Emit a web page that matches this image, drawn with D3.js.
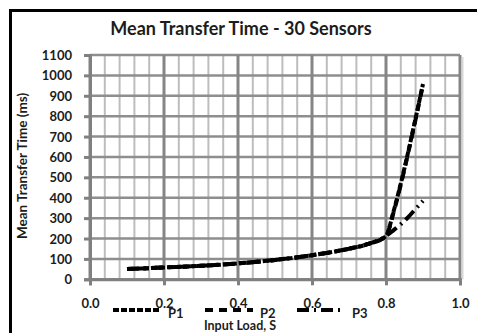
<!DOCTYPE html>
<html>
<head>
<meta charset="utf-8">
<script src="https://cdn.jsdelivr.net/npm/d3@7"></script>
<style>
  html, body { margin: 0; padding: 0; background: #fff; }
  svg { display: block; }
  text { font-family: Lato, "Open Sans", sans-serif; font-weight: bold; fill: #1c1c1c; }
</style>
</head>
<body>
<script>
// Input load values (x) shared by all three series
const loads = [0.1, 0.2, 0.3, 0.4, 0.5, 0.6, 0.7, 0.75, 0.8, 0.82, 0.84, 0.86, 0.88, 0.9];
// Mean transfer time (ms) per series
const p1 = [50, 58, 66, 78, 95, 118, 150, 172, 212, 330, 470, 625, 790, 958];
const p2 = [50, 58, 66, 78, 95, 118, 150, 172, 212, 325, 465, 620, 785, 955];
const p3 = [50, 58, 66, 78, 95, 118, 150, 172, 212, 240, 270, 305, 345, 385];
const seriesNames = ["P1", "P2", "P3"];
const xTicks = [0.0, 0.2, 0.4, 0.6, 0.8, 1.0];
const yTicks = [0, 100, 200, 300, 400, 500, 600, 700, 800, 900, 1000, 1100];

const W = 477, H = 333;
const svg = d3.select("body").append("svg").attr("width", W).attr("height", H);

const x = d3.scaleLinear().domain([0, 1]).range([90, 460]);
const y = d3.scaleLinear().domain([0, 1100]).range([279.3, 55]);

// outer chart frame
svg.append("rect").attr("x", 10.5).attr("y", 10.5).attr("width", 500).attr("height", 400)
  .attr("fill", "none").attr("stroke", "#000").attr("stroke-width", 3);

// title
svg.append("text").attr("x", 241).attr("y", 35).attr("text-anchor", "middle")
  .style("font-size", "18px").text("Mean Transfer Time - 30 Sensors");

const g = svg.append("g");

// minor vertical gridlines
const minorX = d3.range(0, 1.0001, 0.04).filter(v => Math.abs(v * 5 - Math.round(v * 5)) > 1e-6);
g.selectAll("line.vminor").data(minorX).join("line")
  .attr("x1", d => x(d)).attr("x2", d => x(d)).attr("y1", y(1100)).attr("y2", y(0))
  .attr("stroke", "#bdbdbd").attr("stroke-width", 2);

// horizontal gridlines
g.selectAll("line.h").data(yTicks).join("line")
  .attr("x1", x(0)).attr("x2", x(1)).attr("y1", d => y(d)).attr("y2", d => y(d))
  .attr("stroke", "#8e8e8e").attr("stroke-width", 2.5);

// major vertical gridlines
g.selectAll("line.vmajor").data(xTicks).join("line")
  .attr("x1", d => x(d)).attr("x2", d => x(d)).attr("y1", y(1100)).attr("y2", y(0))
  .attr("stroke", "#858585").attr("stroke-width", 3);

// plot area shadow on the right
g.append("line").attr("x1", x(1) + 2.5).attr("x2", x(1) + 2.5).attr("y1", y(1100) + 2).attr("y2", y(0))
  .attr("stroke", "#d6d6d6").attr("stroke-width", 2);

// axes
const yAxis = d3.axisLeft(y).tickValues(yTicks).tickSize(6).tickPadding(12).tickFormat(d3.format("d"));
const yg = svg.append("g").attr("transform", `translate(${x(0)},0)`).call(yAxis);
yg.select(".domain").attr("stroke", "#808080").attr("stroke-width", 3);
yg.selectAll(".tick line").attr("stroke", "#808080").attr("stroke-width", 3);
yg.selectAll(".tick text").style("font-size", "13px").attr("dy", "0.35em");

const xAxis = d3.axisBottom(x).tickValues(xTicks).tickSize(6).tickPadding(13)
  .tickFormat(d3.format(".1f"));
const xg = svg.append("g").attr("transform", `translate(0,${y(0)})`).call(xAxis);
xg.select(".domain").attr("stroke", "#808080").attr("stroke-width", 3);
xg.selectAll(".tick line").attr("stroke", "#808080").attr("stroke-width", 3);
xg.selectAll(".tick text").style("font-size", "13px");

// axis titles
svg.append("text").attr("transform", "translate(27,166) rotate(-90)")
  .attr("text-anchor", "middle").style("font-size", "13.5px").text("Mean Transfer Time (ms)");
svg.append("text").attr("x", 240).attr("y", 330).attr("text-anchor", "middle")
  .style("font-size", "12.5px").text("Input Load, S");

// series
const dashes = ["6,2", "8,6", "12,5,2,5"];
const series = [p1, p2, p3];
const line = d3.line().x(d => x(d[0])).y(d => y(d[1])).curve(d3.curveMonotoneX);
series.forEach((vals, i) => {
  svg.append("path").datum(loads.map((l, j) => [l, vals[j]]))
    .attr("d", line).attr("fill", "none").attr("stroke", "#000")
    .attr("stroke-width", 4).attr("stroke-dasharray", dashes[i]);
});

// legend
const legendX = [113, 205, 297];
seriesNames.forEach((name, i) => {
  svg.append("line").attr("x1", legendX[i]).attr("x2", legendX[i] + 48)
    .attr("y1", 310).attr("y2", 310).attr("stroke", "#000")
    .attr("stroke-width", 4).attr("stroke-dasharray", dashes[i]);
  svg.append("text").attr("x", legendX[i] + 55).attr("y", 318)
    .style("font-size", "13px").text(name);
});
</script>
</body>
</html>
